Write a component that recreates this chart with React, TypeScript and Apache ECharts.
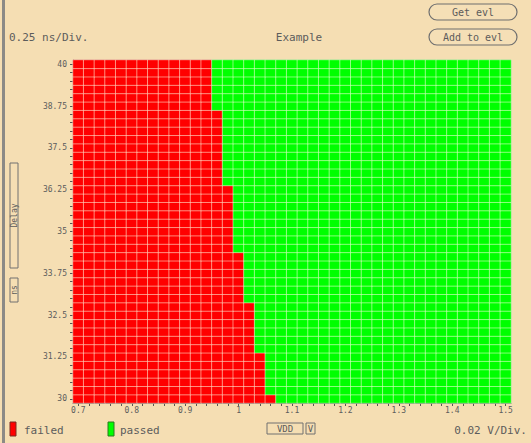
import React, { useEffect, useRef } from "react";
import * as echarts from "echarts";

// Supply voltage sweep (V), one column per step of 0.02 V
const voltages = [
  0.7, 0.72, 0.74, 0.76, 0.78, 0.8, 0.82, 0.84, 0.86, 0.88,
  0.9, 0.92, 0.94, 0.96, 0.98, 1.0, 1.02, 1.04, 1.06, 1.08,
  1.1, 1.12, 1.14, 1.16, 1.18, 1.2, 1.22, 1.24, 1.26, 1.28,
  1.3, 1.32, 1.34, 1.36, 1.38, 1.4, 1.42, 1.44, 1.46, 1.48, 1.5,
];

// Delay sweep (ns), one row per step of 0.25 ns, bottom to top
const delays = [
  30, 30.25, 30.5, 30.75, 31, 31.25, 31.5, 31.75, 32, 32.25,
  32.5, 32.75, 33, 33.25, 33.5, 33.75, 34, 34.25, 34.5, 34.75,
  35, 35.25, 35.5, 35.75, 36, 36.25, 36.5, 36.75, 37, 37.25,
  37.5, 37.75, 38, 38.25, 38.5, 38.75, 39, 39.25, 39.5, 39.75, 40,
];

// Lowest passing supply voltage for each delay row (same order as delays)
const minPassVoltage = [
  1.08,
  1.06, 1.06, 1.06, 1.06, 1.06,
  1.04, 1.04, 1.04, 1.04, 1.04, 1.04,
  1.02, 1.02, 1.02, 1.02, 1.02, 1.02,
  1.0, 1.0, 1.0, 1.0, 1.0, 1.0, 1.0, 1.0,
  0.98, 0.98, 0.98, 0.98, 0.98, 0.98, 0.98, 0.98, 0.98,
  0.96, 0.96, 0.96, 0.96, 0.96, 0.96,
];

const resultNames = ["failed", "passed"];
const resultColors = ["#ff0000", "#00ff00"];

const MONO = '"DejaVu Sans Mono", "Liberation Mono", monospace';
const INK = "#5c5c5c";

function buildCells() {
  const cells: number[][] = [];
  delays.forEach((_d, yi) => {
    voltages.forEach((v, xi) => {
      const pass = v >= minPassVoltage[yi] - 1e-9 ? 1 : 0;
      cells.push([xi, yi, pass]);
    });
  });
  return cells;
}

function pill(x: number, y: number, w: number, h: number, label: string) {
  return {
    type: "group",
    children: [
      {
        type: "rect",
        shape: { x, y, width: w, height: h, r: h / 2 },
        style: { fill: "rgba(255,255,255,0.05)", stroke: "#6f6f6f", lineWidth: 1.2 },
      },
      {
        type: "text",
        x: x + w / 2,
        y: y + h / 2 + 0.5,
        style: {
          text: label,
          fill: INK,
          font: `10px ${MONO}`,
          textAlign: "center",
          textVerticalAlign: "middle",
        },
      },
    ],
  };
}

function textAt(x: number, y: number, text: string, align = "left", size = 11) {
  return {
    type: "text",
    x,
    y,
    style: {
      text,
      fill: INK,
      font: `${size}px ${MONO}`,
      textAlign: align,
      textVerticalAlign: "middle",
    },
  };
}

function boxedLabel(x: number, y: number, w: number, h: number, label: string, vertical = false) {
  return {
    type: "group",
    children: [
      {
        type: "rect",
        shape: { x, y, width: w, height: h },
        style: { fill: "none", stroke: "#707070", lineWidth: 1 },
      },
      {
        type: "text",
        x: x + w / 2,
        y: y + h / 2,
        rotation: vertical ? Math.PI / 2 : 0,
        style: {
          text: label,
          fill: INK,
          font: `${vertical ? 8 : 9}px ${MONO}`,
          textAlign: "center",
          textVerticalAlign: "middle",
        },
      },
    ],
  };
}

export default function App() {
  const ref = useRef<HTMLDivElement>(null);

  useEffect(() => {
    if (!ref.current) return;
    const chart = echarts.init(ref.current, undefined, { renderer: "svg" });

    const axisLabelStyle = {
      color: INK,
      fontSize: 8,
      fontFamily: MONO,
    };

    chart.setOption({
      animation: false,
      backgroundColor: "#f5deb3",
      grid: {
        left: 73,
        right: 20,
        top: 60,
        bottom: 40,
        show: true,
        borderColor: "#b9ad95",
        borderWidth: 1,
        backgroundColor: "transparent",
      },
      xAxis: {
        type: "category",
        data: voltages.map((v) => String(v)),
        axisLine: { show: true, lineStyle: { color: "#6a6a6a", width: 1 } },
        axisTick: { show: true, interval: 0, alignWithLabel: true, length: 3, lineStyle: { color: "#555" } },
        axisLabel: { ...axisLabelStyle, interval: 4, margin: 3 },
        splitLine: { show: false },
      },
      yAxis: {
        type: "category",
        data: delays.map((d) => String(d)),
        axisLine: { show: true, lineStyle: { color: "#6a6a6a", width: 1 } },
        axisTick: { show: true, interval: 0, alignWithLabel: true, length: 3, lineStyle: { color: "#555" } },
        axisLabel: { ...axisLabelStyle, interval: 4, margin: 6 },
        splitLine: { show: false },
      },
      visualMap: {
        type: "piecewise",
        show: false,
        dimension: 2,
        seriesIndex: 0,
        pieces: [
          { value: 0, label: resultNames[0], color: resultColors[0] },
          { value: 1, label: resultNames[1], color: resultColors[1] },
        ],
      },
      series: [
        {
          type: "heatmap",
          data: buildCells(),
          itemStyle: { borderColor: "rgba(255,255,230,0.5)", borderWidth: 1 },
          emphasis: { disabled: true },
        },
      ],
      graphic: [
        // frame bar on the left edge
        { type: "rect", shape: { x: 2, y: 0, width: 3, height: 443 }, style: { fill: "#8c8a86" } },
        textAt(9, 37, "0.25 ns/Div."),
        textAt(299, 37, "Example", "center"),
        pill(429, 4, 88, 16, "Get evl"),
        pill(429, 29, 88, 16, "Add to evl"),
        boxedLabel(10, 163, 8, 105, "Delay", true),
        boxedLabel(10, 278, 8, 24, "ns", true),
        { type: "rect", shape: { x: 10, y: 422, width: 6, height: 14 }, style: { fill: resultColors[0], stroke: "#7a2a20", lineWidth: 1 } },
        textAt(24, 430, resultNames[0]),
        { type: "rect", shape: { x: 108, y: 422, width: 6, height: 14 }, style: { fill: resultColors[1], stroke: "#2a7a20", lineWidth: 1 } },
        textAt(120, 430, resultNames[1]),
        boxedLabel(267, 423, 36, 11, "VDD"),
        boxedLabel(306, 423, 9, 11, "V"),
        textAt(527, 430, "0.02 V/Div.", "right"),
      ],
    });

    return () => chart.dispose();
  }, []);

  return (
    <div
      ref={ref}
      style={{ position: "absolute", left: 0, top: 0, width: 531, height: 443 }}
    />
  );
}
